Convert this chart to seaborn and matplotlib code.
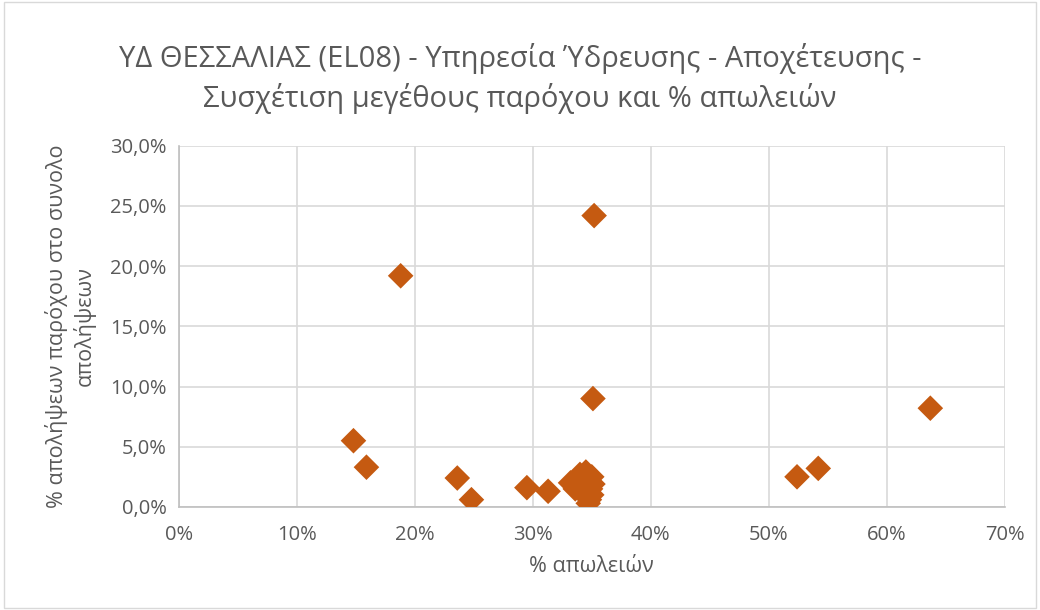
import matplotlib
matplotlib.use("Agg")
import matplotlib.pyplot as plt
import seaborn as sb
import pandas as pd
from matplotlib.ticker import FuncFormatter
from matplotlib.patches import Rectangle

# % απωλειών (x) και % απολήψεων παρόχου (y)
losses = [14.8, 15.9, 18.8, 23.6, 24.8, 29.5, 31.3,
          33.2, 33.6, 33.8, 34.0, 34.2, 34.3, 34.5, 34.7, 34.7, 34.8, 34.9, 35.0, 35.0, 35.1,
          35.2, 35.1, 52.4, 54.2, 63.7]
share = [5.5, 3.3, 19.2, 2.4, 0.6, 1.6, 1.3,
         2.0, 1.5, 2.4, 2.7, 1.8, 1.2, 2.9, 2.2, 0.3, 0.6, 1.5, 1.0, 2.5, 1.9,
         24.2, 9.0, 2.5, 3.2, 8.2]

df = pd.DataFrame({"losses": losses, "share": share})

title = "ΥΔ ΘΕΣΣΑΛΙΑΣ (EL08) - Υπηρεσία Ύδρευσης - Αποχέτευσης -\nΣυσχέτιση μεγέθους παρόχου και % απωλειών"
xlabel = "% απωλειών"
ylabel = "% απολήψεων παρόχου στο συνολο\nαπολήψεων"

sb.set_style("white")
plt.rcParams["font.family"] = ["Open Sans", "DejaVu Sans"]
txt = "#595959"

fig = plt.figure(figsize=(10.4, 6.1), dpi=100)
fig.patches.append(Rectangle((0.004, 0.004), 0.992, 0.992, transform=fig.transFigure,
                             fill=False, edgecolor="#D9D9D9", linewidth=1))
ax = fig.add_axes([0.172, 0.169, 0.794, 0.592])

sb.scatterplot(data=df, x="losses", y="share", marker="D", s=170,
               color="#C55A11", edgecolor="none", ax=ax, zorder=3)

ax.set_xlim(0, 70)
ax.set_ylim(0, 30)
ax.set_xticks(range(0, 71, 10))
ax.set_yticks([0, 5, 10, 15, 20, 25, 30])
ax.xaxis.set_major_formatter(FuncFormatter(lambda v, p: f"{v:.0f}%"))
ax.yaxis.set_major_formatter(FuncFormatter(lambda v, p: f"{v:.1f}%".replace(".", ",")))
ax.grid(True, color="#D9D9D9", linewidth=1.2)
ax.set_axisbelow(True)
for s in ["top", "right"]:
    ax.spines[s].set_visible(False)
for s in ["left", "bottom"]:
    ax.spines[s].set_color("#BFBFBF")
    ax.spines[s].set_linewidth(1.2)
ax.tick_params(colors=txt, labelsize=14.5, length=0)
ax.tick_params(axis="x", pad=13)
ax.tick_params(axis="y", pad=9)

ax.set_xlabel(xlabel, color=txt, fontsize=15.5, labelpad=8)
ax.set_ylabel(ylabel, color=txt, fontsize=15.5, labelpad=10, linespacing=1.3)
fig.suptitle(title, color=txt, fontsize=21, y=0.93, linespacing=1.4)

fig.savefig("out.png", dpi=100)
